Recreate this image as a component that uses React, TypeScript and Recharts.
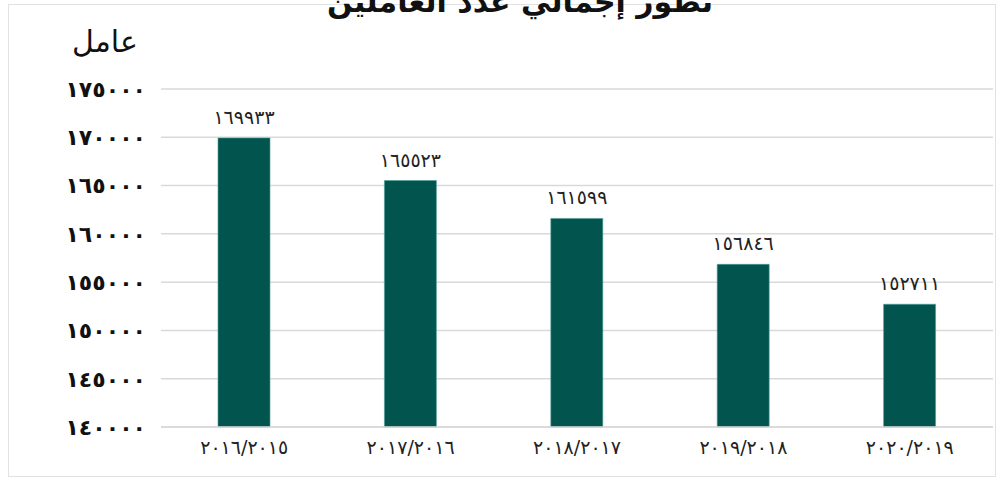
import { BarChart, Bar, XAxis, YAxis, CartesianGrid, LabelList } from 'recharts'

const seasons = ['٢٠١٦/٢٠١٥', '٢٠١٧/٢٠١٦', '٢٠١٨/٢٠١٧', '٢٠١٩/٢٠١٨', '٢٠٢٠/٢٠١٩']
const workers = [169933, 165523, 161599, 156846, 152711]
const yTicks = [140000, 145000, 150000, 155000, 160000, 165000, 170000, 175000]

const title = 'تطور إجمالي عدد العاملين'
const unitLabel = 'عامل'

const data = seasons.map((season, i) => ({ season, workers: workers[i] }))

const toArabicDigits = (n: number | string) =>
  String(n).replace(/[0-9]/g, (d) => '٠١٢٣٤٥٦٧٨٩'[Number(d)])

const font = '"DejaVu Sans", sans-serif'

export default function App() {
  return (
    <div style={{ position: 'absolute', left: 0, top: 0, width: 1001, height: 480, background: '#fff', fontFamily: font }}>
      <div
        style={{
          position: 'absolute',
          left: 8,
          top: 4,
          width: 988,
          height: 473,
          border: '1.5px solid #e2e2e2',
          boxSizing: 'border-box',
        }}
      />
      <div
        style={{
          position: 'absolute',
          left: 0,
          width: 1040,
          top: -16,
          textAlign: 'center',
          fontSize: 30,
          fontWeight: 'bold',
          color: '#111',
          direction: 'rtl',
        }}
      >
        {title}
      </div>
      <div style={{ position: 'absolute', left: 72, top: 24, fontSize: 30, color: '#111', direction: 'rtl' }}>
        {unitLabel}
      </div>
      <BarChart
        width={1001}
        height={480}
        data={data}
        margin={{ top: 89, right: 8, left: 0, bottom: 0 }}
        barCategoryGap={57}
      >
        <CartesianGrid vertical={false} stroke="#d9d9d9" strokeWidth={1.5} />
        <XAxis
          dataKey="season"
          height={53}
          axisLine={{ stroke: '#d9d9d9', strokeWidth: 1.5 }}
          tickLine={false}
          tickMargin={8}
          tick={{ fill: '#222', fontSize: 19, fontFamily: font }}
        />
        <YAxis
          width={161}
          domain={[140000, 175000]}
          ticks={yTicks}
          axisLine={false}
          tickLine={false}
          tickSize={0}
          tickMargin={15}
          tickFormatter={(v) => toArabicDigits(v)}
          tick={{ fill: '#111', fontSize: 22, fontWeight: 'bold', fontFamily: font, letterSpacing: -1.5 }}
        />
        <Bar dataKey="workers" fill="#02554f" stroke="#4f9f99" strokeWidth={0.6} isAnimationActive={false}>
          <LabelList
            dataKey="workers"
            position="top"
            offset={14}
            formatter={(v: any) => toArabicDigits(v)}
            style={{ fill: '#222', fontSize: 19, fontFamily: font }}
          />
        </Bar>
      </BarChart>
    </div>
  )
}
